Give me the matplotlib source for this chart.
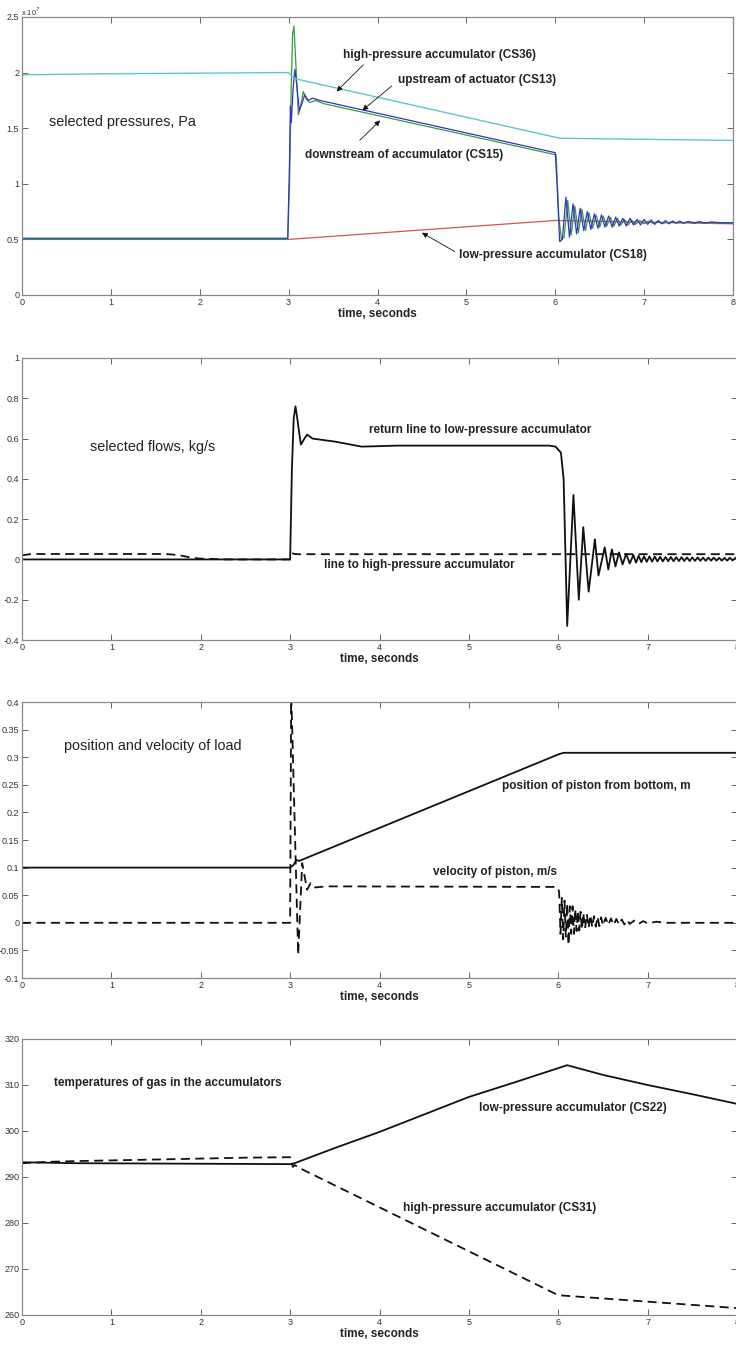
import matplotlib.pyplot as plt

plt.rcParams['font.family'] = ['Liberation Sans', 'DejaVu Sans']

# ---------------- data ----------------
x_ticks = [0, 1, 2, 3, 4, 5, 6, 7, 8]

# panel 1: pressures, units of 1e7 Pa
p_ticks = [0, 0.5, 1, 1.5, 2, 2.5]
p_ticklabels = ["0", "0.5", "1", "1.5", "2", "2.5"]

t_hp = [0, 1.0, 2.0, 2.9, 3.0, 3.03, 3.06, 3.1, 6.05, 6.5, 7.0, 7.5, 8.0]
p_hp = [1.98, 1.99, 1.995, 2.0, 2.0, 1.97, 1.95, 1.94, 1.41, 1.405, 1.40, 1.395, 1.39]

t_lp = [0, 3.0, 6.0, 7.0, 8.0]
p_lp = [0.5, 0.5, 0.67, 0.655, 0.64]

t_up = [0, 2.99, 3.01, 3.02, 3.03, 3.05, 3.07, 3.09, 3.12, 3.15, 3.18, 3.22, 3.27, 3.35, 6.0,
        6.02, 6.05, 6.08, 6.12, 6.16, 6.20, 6.24, 6.28, 6.32, 6.36,
        6.40, 6.44, 6.48, 6.52, 6.56, 6.60, 6.64, 6.68, 6.72, 6.76,
        6.80, 6.84, 6.88, 6.92, 6.96, 7.00, 7.04,
        7.08, 7.12, 7.16, 7.20, 7.24, 7.28, 7.32, 7.36, 7.40, 7.44,
        7.50, 7.56, 7.62, 7.68, 7.76, 7.86, 8.0]
p_up = [0.51, 0.51, 1.2, 1.7, 1.55, 1.85, 2.03, 1.9, 1.66, 1.72, 1.80, 1.75, 1.77, 1.75, 1.28,
        1.0, 0.48, 0.50, 0.88, 0.52, 0.82, 0.55, 0.78, 0.58, 0.75,
        0.59, 0.73, 0.60, 0.72, 0.61, 0.71, 0.61, 0.70, 0.62, 0.69,
        0.62, 0.69, 0.63, 0.68, 0.63, 0.68, 0.635,
        0.675, 0.635, 0.67, 0.64, 0.67, 0.64, 0.665, 0.645, 0.665, 0.645,
        0.66, 0.645, 0.66, 0.648, 0.657, 0.65, 0.65]

t_down = [0, 2.99, 3.01, 3.03, 3.045, 3.06, 3.08, 3.11, 3.13, 3.165, 3.2, 3.24, 3.3, 3.4, 6.01,
          6.04, 6.07, 6.10, 6.14, 6.18, 6.22, 6.26, 6.30, 6.34, 6.38,
          6.42, 6.46, 6.50, 6.54, 6.58, 6.62, 6.66, 6.70, 6.74, 6.78,
          6.82, 6.86, 6.90, 6.95, 7.0, 7.05, 7.1, 7.15, 7.2, 7.3,
          7.4, 7.5, 7.7, 8.0]
p_down = [0.5, 0.5, 1.0, 1.9, 2.35, 2.42, 2.1, 1.62, 1.68, 1.83, 1.76, 1.73, 1.75, 1.72, 1.26,
          0.7, 0.5, 0.52, 0.85, 0.54, 0.8, 0.56, 0.77, 0.58, 0.74,
          0.6, 0.72, 0.61, 0.71, 0.62, 0.7, 0.62, 0.69, 0.63, 0.68,
          0.63, 0.675, 0.635, 0.67, 0.64, 0.665, 0.645, 0.66, 0.645, 0.655,
          0.65, 0.655, 0.65, 0.645]

# panel 2: flows, kg/s
f_ticks = [-0.4, -0.2, 0, 0.2, 0.4, 0.6, 0.8, 1]
f_ticklabels = ["-0.4", "-0.2", "0", "0.2", "0.4", "0.6", "0.8", "1"]

t_ret = [0, 3.0, 3.02, 3.04, 3.06, 3.08, 3.12, 3.16, 3.19, 3.25,
         3.5, 3.8, 4.2, 5.0, 5.9, 5.97, 6.03, 6.06, 6.10, 6.17,
         6.23, 6.28, 6.34, 6.41, 6.45, 6.52, 6.56, 6.60, 6.64, 6.68,
         6.72, 6.76, 6.80, 6.84, 6.87]
f_ret = [0, 0, 0.45, 0.7, 0.76, 0.7, 0.57, 0.6, 0.62, 0.60,
         0.585, 0.56, 0.565, 0.565, 0.565, 0.56, 0.53, 0.4, -0.33, 0.32,
         -0.2, 0.16, -0.16, 0.10, -0.08, 0.06, -0.05, 0.05, -0.035, 0.035,
         -0.025, 0.028, -0.02, 0.022, -0.016]
t_ret_tail = [6.90, 6.93, 6.96, 6.99, 7.02, 7.05, 7.08, 7.11, 7.14, 7.17,
              7.20, 7.23, 7.26, 7.29, 7.32, 7.35, 7.38, 7.41, 7.44, 7.47,
              7.50, 7.53, 7.56, 7.59, 7.62, 7.65, 7.68, 7.71, 7.74, 7.77,
              7.80, 7.83, 7.86, 7.89, 7.92, 7.95, 7.98]
f_ret_tail = [0.018, -0.014, 0.016, -0.012, 0.015, -0.011, 0.014, -0.01, 0.013, -0.01,
              0.012, -0.009, 0.012, -0.009, 0.011, -0.008, 0.011, -0.008, 0.01, -0.008,
              0.01, -0.007, 0.01, -0.007, 0.009, -0.007, 0.009, -0.006, 0.009, -0.006,
              0.008, -0.006, 0.008, -0.006, 0.008, -0.005, 0.007]

t_hpline = [0, 0.1, 1.6, 1.75, 1.9, 2.0, 2.3, 3.0, 3.03, 3.06, 8.0]
f_hpline = [0.02, 0.027, 0.027, 0.022, 0.008, 0.004, 0.0, 0.0, 0.03, 0.026, 0.026]

# panel 3: position (m) and velocity (m/s)
m_ticks = [-0.1, -0.05, 0, 0.05, 0.1, 0.15, 0.2, 0.25, 0.3, 0.35, 0.4]
m_ticklabels = ["-0.1", "-0.05", "0", "0.05", "0.1", "0.15", "0.2", "0.25", "0.3", "0.35", "0.4"]

t_pos = [0, 3.0, 3.04, 3.07, 3.1, 6.0, 6.06, 6.2, 8.0]
pos = [0.1, 0.1, 0.105, 0.114, 0.112, 0.305, 0.308, 0.308, 0.308]

t_vel = [0, 3.0, 3.012, 3.09, 3.135, 3.19, 3.23, 3.28, 3.4, 5.98, 6.0,
         6.01, 6.025, 6.04, 6.055, 6.07, 6.085, 6.10, 6.115, 6.13, 6.145,
         6.16, 6.175, 6.19, 6.205, 6.22, 6.235, 6.25, 6.265, 6.28, 6.30,
         6.32, 6.34, 6.36, 6.38, 6.40, 6.42, 6.44, 6.46, 6.48, 6.50,
         6.53, 6.56, 6.59, 6.62, 6.65, 6.68, 6.71, 6.74, 6.77, 6.80,
         6.85, 6.90, 6.95, 7.0, 7.1, 7.2, 7.4, 8.0]
vel = [0, 0, 0.42, -0.058, 0.108, 0.06, 0.072, 0.064, 0.066, 0.065, 0.062,
       0.055, -0.02, 0.045, -0.03, 0.04, -0.025, 0.035, -0.04, 0.03, -0.02,
       0.03, -0.02, 0.025, -0.015, 0.022, -0.014, 0.02, -0.012, 0.018, -0.01,
       0.016, -0.009, 0.014, -0.008, 0.012, -0.007, 0.011, -0.006, 0.01, -0.005,
       0.009, -0.004, 0.008, -0.004, 0.007, -0.003, 0.006, -0.003, 0.005, -0.002,
       0.004, -0.002, 0.003, -0.001, 0.002, 0.0, 0.0, 0.0]

# panel 4: gas temperatures, K
k_ticks = [260, 270, 280, 290, 300, 310, 320]
k_ticklabels = ["260", "270", "280", "290", "300", "310", "320"]

t_tlp = [0, 0.6, 3.0, 3.05, 3.5, 4.0, 4.5, 5.0, 5.5, 6.1, 6.5, 7.0, 7.5, 8.0]
temp_lp = [293.2, 293.0, 292.8, 293.0, 296.3, 299.8, 303.6, 307.4, 310.5, 314.3, 312.2, 310.0, 308.0, 305.9]

t_thp = [0, 0.3, 0.7, 1.5, 2.5, 3.0, 3.03, 3.05, 3.1, 6.0, 7.0, 8.0]
temp_hp = [293.0, 293.3, 293.5, 293.8, 294.2, 294.3, 292.2, 292.6, 292.0, 264.3, 262.9, 261.5]


# ---------------- figure ----------------
W, H = 736, 1346
fig = plt.figure(figsize=(W / 100, H / 100), dpi=100)


def make_axes(left, right, top, bottom):
    return fig.add_axes([left / W, 1 - bottom / H, (right - left) / W, (bottom - top) / H])


def style(ax, ylim, yticks, yticklabels):
    ax.set_xlim(0, 8)
    ax.set_ylim(*ylim)
    ax.set_xticks(x_ticks)
    ax.set_xticklabels([str(t) for t in x_ticks])
    ax.set_yticks(yticks)
    ax.set_yticklabels(yticklabels)
    ax.tick_params(direction='in', length=4, width=0.7, color='#666666',
                   labelsize=6.5, labelcolor='#333333', top=True, right=True, pad=2)
    for s in ax.spines.values():
        s.set_color('#888888')
        s.set_linewidth(0.9)
    ax.set_xlabel('time, seconds', fontsize=8.5, fontweight='bold', labelpad=1, color='#222222')


txt = dict(fontsize=8.5, fontweight='bold', color='#222222', ha='center', va='center')
title = dict(fontsize=10.4, color='#222222', ha='center', va='center')
arrow = dict(arrowstyle='-|>', color='#111111', lw=0.6, mutation_scale=8, shrinkA=0, shrinkB=0)

# Panel 1
ax1 = make_axes(22, 733, 17, 295)
ax1.plot(t_lp, p_lp, color='#d85050', lw=0.9)
ax1.plot(t_down, p_down, color='#3a9a3a', lw=0.9)
ax1.plot(t_up, p_up, color='#3434c4', lw=0.9)
ax1.plot(t_hp, p_hp, color='#5cc8c4', lw=1.0)
style(ax1, (0, 2.5), p_ticks, p_ticklabels)
fig.text(21 / W, 1 - 12 / H, r'x 10$^7$', fontsize=5.5, color='#333333', va='center')
ax1.text(1.13, 1.56, 'selected pressures, Pa', **title)
ax1.text(4.70, 2.16, 'high-pressure accumulator (CS36)', **txt)
ax1.annotate('', xy=(3.54, 1.83), xytext=(3.84, 2.07), arrowprops=arrow)
ax1.text(5.12, 1.93, 'upstream of actuator (CS13)', **txt)
ax1.annotate('', xy=(3.83, 1.66), xytext=(4.16, 1.88), arrowprops=arrow)
ax1.text(4.30, 1.26, 'downstream of accumulator (CS15)', **txt)
ax1.annotate('', xy=(4.03, 1.57), xytext=(3.80, 1.39), arrowprops=arrow)
ax1.text(5.97, 0.36, 'low-pressure accumulator (CS18)', **txt)
ax1.annotate('', xy=(4.50, 0.56), xytext=(4.87, 0.39), arrowprops=arrow)

# Panel 2
ax2 = make_axes(22, 737, 358, 640)
ax2.plot(t_ret + t_ret_tail, f_ret + f_ret_tail, color='#111111', lw=1.3)
ax2.plot(t_hpline, f_hpline, color='#111111', lw=1.3, dashes=(5, 3))
style(ax2, (-0.4, 1), f_ticks, f_ticklabels)
ax2.text(1.46, 0.558, 'selected flows, kg/s', **title)
ax2.text(5.13, 0.643, 'return line to low-pressure accumulator', **txt)
ax2.text(4.44, -0.028, 'line to high-pressure accumulator', **txt)

# Panel 3
ax3 = make_axes(22, 737, 702, 978)
ax3.plot(t_pos, pos, color='#111111', lw=1.3)
ax3.plot(t_vel, vel, color='#111111', lw=1.3, dashes=(5, 3))
style(ax3, (-0.1, 0.4), m_ticks, m_ticklabels)
ax3.text(1.46, 0.32, 'position and velocity of load', **title)
ax3.text(6.43, 0.248, 'position of piston from bottom, m', **txt)
ax3.text(5.29, 0.092, 'velocity of piston, m/s', **txt)

# Panel 4
ax4 = make_axes(22, 737, 1039, 1315)
ax4.plot(t_tlp, temp_lp, color='#111111', lw=1.3)
ax4.plot(t_thp, temp_hp, color='#111111', lw=1.3, dashes=(5, 3))
style(ax4, (260, 320), k_ticks, k_ticklabels)
ax4.text(1.63, 310.4, 'temperatures of gas in the accumulators', **txt)
ax4.text(6.16, 305.0, 'low-pressure accumulator (CS22)', **txt)
ax4.text(5.34, 283.3, 'high-pressure accumulator (CS31)', **txt)

fig.savefig('out.png', dpi=100)
